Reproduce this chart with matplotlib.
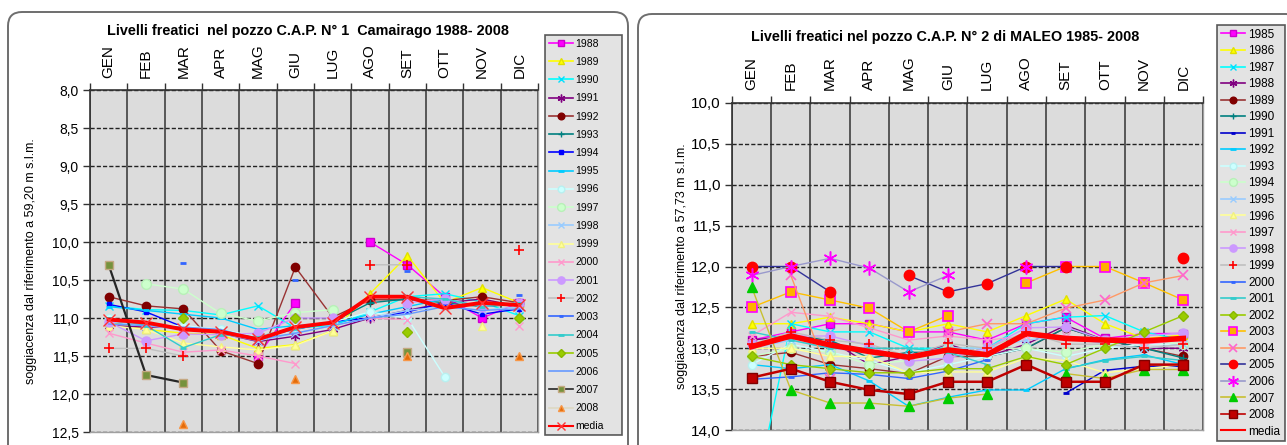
import numpy as np
import matplotlib
matplotlib.use('Agg')
import matplotlib.pyplot as plt
from matplotlib.patches import FancyBboxPatch
from matplotlib.lines import Line2D

nan = np.nan
months = ['GEN', 'FEB', 'MAR', 'APR', 'MAG', 'GIU', 'LUG', 'AGO', 'SET', 'OTT', 'NOV', 'DIC']

# ---------------- Left chart: Camairago 1988-2008 ----------------
cam_1988 = [nan, nan, nan, nan, 11.50, 10.80, nan, 10.00, 10.30, 10.72, 11.00, 10.80]
cam_1989 = [11.05, 11.15, 11.20, 11.22, 11.40, 11.35, 11.17, 10.68, 10.18, 10.80, 10.60, 10.80]
cam_1990 = [10.84, 10.89, 10.90, 10.96, 10.84, 11.13, 11.10, 10.92, 10.72, 10.68, 10.79, 10.97]
cam_1991 = [11.10, 11.12, 11.12, 11.20, 11.31, 11.24, 11.15, 11.00, 10.90, 10.80, 10.75, 10.85]
cam_1992 = [10.72, 10.84, 10.88, 11.43, 11.60, 10.33, 10.99, 10.76, 10.76, 10.77, 10.72, 10.80]
cam_1993 = [11.05, 11.10, 11.12, 11.20, 11.25, 11.12, 11.05, 10.80, 10.75, 10.80, 10.85, 10.82]
cam_1994 = [10.82, 10.92, 11.12, 11.20, 11.25, 11.15, 11.05, 11.00, 10.92, 10.80, 10.95, 10.88]
cam_1995 = [10.85, 10.90, 10.95, 11.00, 11.15, 11.10, 11.08, 10.95, 10.85, 10.75, 10.85, 10.80]
cam_1996 = [11.00, 11.10, 11.10, 11.15, 11.25, 11.12, 11.05, 10.92, 11.00, 11.77, nan, nan]
cam_1997 = [nan, 10.55, 10.62, 10.94, 11.04, 10.93, 10.89, nan, nan, nan, nan, nan]
cam_1998 = [11.05, 11.10, 11.15, 11.20, 11.30, 11.20, 11.10, 11.00, 10.90, 10.85, 10.90, 10.85]
cam_1999 = [11.10, 11.15, 11.33, 11.38, 11.42, 11.36, 11.17, nan, nan, nan, 11.10, nan]
cam_2000 = [11.20, 11.33, 11.45, 11.42, 11.50, 11.60, nan, 11.00, 11.02, nan, nan, 11.10]
cam_2001 = [11.05, 11.30, 11.21, 11.22, 11.20, 11.00, 11.00, nan, 10.80, 10.75, 10.85, 10.80]
cam_2002 = [11.40, 11.40, 11.50, nan, nan, nan, nan, 10.30, 10.30, nan, nan, 10.10]
cam_2003 = [nan, nan, 10.28, nan, nan, 10.50, nan, nan, 10.38, nan, nan, 10.70]
cam_2004 = [11.00, 11.10, 11.39, 11.22, 11.25, 11.15, 11.05, nan, 10.72, 10.75, 10.85, 10.80]
cam_2005 = [nan, nan, 11.00, nan, nan, 11.00, nan, nan, 11.19, nan, nan, 11.00]
cam_2006 = [11.08, 11.10, 11.12, 11.15, 11.28, 11.20, 11.10, 11.00, 10.95, 10.85, 10.90, 10.88]
cam_2007 = [10.30, 11.75, 11.85, nan, nan, nan, nan, nan, 11.45, nan, nan, nan]
cam_2008 = [nan, nan, 12.40, nan, nan, 11.80, nan, nan, 11.50, nan, nan, 11.50]
cam_media = [11.02, 11.06, 11.15, 11.18, 11.28, 11.12, 11.06, 10.72, 10.72, 10.87, 10.80, 10.83]

cam_labels = ['1988', '1989', '1990', '1991', '1992', '1993', '1994', '1995', '1996', '1997',
              '1998', '1999', '2000', '2001', '2002', '2003', '2004', '2005', '2006', '2007',
              '2008', 'media']
cam_values = [cam_1988, cam_1989, cam_1990, cam_1991, cam_1992, cam_1993, cam_1994, cam_1995,
              cam_1996, cam_1997, cam_1998, cam_1999, cam_2000, cam_2001, cam_2002, cam_2003,
              cam_2004, cam_2005, cam_2006, cam_2007, cam_2008, cam_media]

# ---------------- Right chart: Maleo 1985-2008 ----------------
mal_1985 = [12.90, 12.80, 12.70, 12.70, 12.80, 12.80, 12.90, 12.70, 12.62, 12.88, 12.82, 12.82]
mal_1986 = [12.70, 12.70, 12.62, 12.70, 12.80, 12.70, 12.80, 12.60, 12.40, 12.70, 12.88, 12.84]
mal_1987 = [15.00, 12.70, 12.80, 12.80, 13.00, 13.00, 13.00, 12.70, 12.62, 12.60, 12.80, 12.90]
mal_1988 = [12.90, 12.85, 12.90, 13.20, 13.10, 12.95, 13.10, 12.95, 12.72, 12.90, 13.00, 13.00]
mal_1989 = [13.10, 13.05, 13.20, 13.25, 13.31, 13.10, 13.10, 13.00, 12.75, 12.90, 13.00, 13.10]
mal_1990 = [13.00, 12.85, 12.90, 13.12, 13.05, 13.05, 13.10, 13.00, 12.75, 12.90, 13.00, 13.12]
mal_1991 = [nan, nan, nan, nan, nan, nan, nan, nan, 13.55, 13.27, 13.22, 13.22]
mal_1992 = [13.20, 13.25, 13.20, 13.40, 13.71, 13.60, 13.51, 13.51, 13.25, 13.14, 13.08, 13.20]
mal_1993 = [13.20, 12.95, 13.05, 13.15, 13.30, 13.20, 13.10, 13.00, 13.10, 13.00, 12.95, 12.95]
mal_1994 = [13.10, 13.00, 13.05, 13.20, 13.15, 13.00, 13.00, 13.00, 13.05, 12.95, 12.90, 12.95]
mal_1995 = [13.00, 12.90, 13.00, 13.05, 13.10, 13.00, 13.00, 12.90, 12.85, 12.95, 13.00, 12.95]
mal_1996 = [13.00, 13.00, 13.10, 13.10, 13.30, 13.29, 13.29, 13.12, 13.15, 13.30, 13.25, 13.20]
mal_1997 = [12.85, 12.56, 12.61, 12.75, 12.90, 12.85, 12.90, 12.85, 12.85, 12.90, 12.95, 12.90]
mal_1998 = [12.95, 12.85, 12.85, 12.97, 13.16, 13.12, 13.00, 12.75, 12.74, 12.90, 12.85, 12.81]
mal_1999 = [12.95, 12.80, 12.90, 12.95, 13.10, 12.94, 13.00, 12.80, 12.95, 12.95, 13.00, 12.95]
mal_2000 = [13.38, 13.35, 13.30, 13.32, 13.37, 13.28, 13.14, nan, nan, nan, nan, nan]
mal_2001 = [12.80, 12.90, 13.00, 13.00, 13.00, 13.05, 13.20, nan, 13.25, 13.15, 13.10, 13.15]
mal_2002 = [13.10, 13.20, 13.25, 13.30, 13.30, 13.25, 13.25, 13.10, 13.20, 13.00, 12.80, 12.60]
mal_2003 = [12.50, 12.31, 12.41, 12.51, 12.80, 12.60, nan, 12.20, 12.00, 12.00, 12.20, 12.41]
mal_2004 = [nan, 12.11, 13.38, nan, nan, 12.80, 12.70, 12.70, 12.51, 12.41, 12.20, 12.11]
mal_2005 = [12.00, 12.00, 12.31, nan, 12.11, 12.31, 12.21, 12.00, 12.00, nan, nan, 11.90]
mal_2006 = [12.11, 12.00, 11.90, 12.02, 12.31, 12.11, nan, 12.00, nan, nan, nan, nan]
mal_2007 = [12.25, 13.51, 13.67, 13.67, 13.71, 13.61, 13.56, nan, 13.31, 13.37, 13.26, 13.26]
mal_2008 = [13.36, 13.25, 13.41, 13.51, 13.56, 13.41, 13.41, 13.20, 13.41, 13.41, 13.20, 13.20]
mal_media = [12.98, 12.85, 12.96, 13.04, 13.11, 13.02, 13.08, 12.82, 12.88, 12.90, 12.91, 12.88]

mal_labels = ['1985', '1986', '1987', '1988', '1989', '1990', '1991', '1992', '1993', '1994',
              '1995', '1996', '1997', '1998', '1999', '2000', '2001', '2002', '2003', '2004',
              '2005', '2006', '2007', '2008', 'media']
mal_values = [mal_1985, mal_1986, mal_1987, mal_1988, mal_1989, mal_1990, mal_1991, mal_1992,
              mal_1993, mal_1994, mal_1995, mal_1996, mal_1997, mal_1998, mal_1999, mal_2000,
              mal_2001, mal_2002, mal_2003, mal_2004, mal_2005, mal_2006, mal_2007, mal_2008,
              mal_media]

AST = (6, 2, 0)

L_STYLE = {
    '1988': dict(lc='#FF00FF', m='s', ms=6, mfc='#FF00FF', mec='#CC00CC'),
    '1989': dict(lc='#FFFF00', m='^', ms=6, mfc='#FFFF00', mec='#E0E000'),
    '1990': dict(lc='#00FFFF', m='x', ms=6, mfc='#00FFFF', mec='#00E0FF'),
    '1991': dict(lc='#800080', m=AST, ms=7, mfc='#800080', mec='#800080'),
    '1992': dict(lc='#993333', m='o', ms=6, mfc='#800000', mec='#800000'),
    '1993': dict(lc='#008080', m='+', ms=6, mfc='#008080', mec='#008080'),
    '1994': dict(lc='#0000FF', m='s', ms=3, mfc='#0000FF', mec='#0000FF'),
    '1995': dict(lc='#00CCFF', m='_', ms=5, mfc='#00CCFF', mec='#00CCFF', mew=2),
    '1996': dict(lc='#CCFFFF', m='o', ms=6, mfc='#CCFFFF', mec='#B8F0F0'),
    '1997': dict(lc='#CCFFCC', m='o', ms=7, mfc='#CCFFCC', mec='#B8F0B8'),
    '1998': dict(lc='#99CCFF', m='x', ms=6, mfc='#99CCFF', mec='#99CCFF'),
    '1999': dict(lc='#FFFF99', m='^', ms=6, mfc='#FFFF99', mec='#F0F080'),
    '2000': dict(lc='#FF99CC', m='x', ms=6, mfc='#FF99CC', mec='#FF99CC'),
    '2001': dict(lc='#CC99FF', m='o', ms=6.5, mfc='#CC99FF', mec='#CC99FF'),
    '2002': dict(lc='#C0C0C0', m='+', ms=7, mfc='#FF0000', mec='#FF0000', mew=1.2),
    '2003': dict(lc='#3366FF', m='_', ms=4, mfc='#3366FF', mec='#3366FF', mew=2),
    '2004': dict(lc='#33CCCC', m='_', ms=5, mfc='#33CCCC', mec='#33CCCC', mew=2),
    '2005': dict(lc='#99CC00', m='D', ms=5, mfc='#99CC00', mec='#88B800'),
    '2006': dict(lc='#6699FF', m='None', ms=0, mfc='#6699FF', mec='#6699FF'),
    '2007': dict(lc='#262626', lw=1.6, m='s', ms=6, mfc='#76923C', mec='#C4A882'),
    '2008': dict(lc='#DDD9C3', m='^', ms=6, mfc='#E46C0A', mec='#F79646'),
    'media': dict(lc='#FF0000', lw=2.8, m='x', ms=8, mfc='#FF0000', mec='#FF3333'),
}

R_STYLE = {
    '1985': dict(lc='#FF00FF', m='s', ms=6, mfc='#FF00FF', mec='#CC00CC'),
    '1986': dict(lc='#FFFF00', m='^', ms=6, mfc='#FFFF00', mec='#E0E000'),
    '1987': dict(lc='#00FFFF', m='x', ms=6, mfc='#00FFFF', mec='#00E0FF'),
    '1988': dict(lc='#800080', m=AST, ms=7, mfc='#800080', mec='#800080'),
    '1989': dict(lc='#993333', m='o', ms=6, mfc='#800000', mec='#800000'),
    '1990': dict(lc='#008080', m='+', ms=6, mfc='#008080', mec='#008080'),
    '1991': dict(lc='#0000CC', m='_', ms=4, mfc='#0000CC', mec='#0000CC', mew=2),
    '1992': dict(lc='#00CCFF', m='_', ms=5, mfc='#00CCFF', mec='#00CCFF', mew=2),
    '1993': dict(lc='#CCFFFF', m='o', ms=6, mfc='#CCFFFF', mec='#B8F0F0'),
    '1994': dict(lc='#CCFFCC', m='o', ms=7, mfc='#CCFFCC', mec='#B8F0B8'),
    '1995': dict(lc='#99CCFF', m='x', ms=6, mfc='#99CCFF', mec='#99CCFF'),
    '1996': dict(lc='#FFFF99', m='^', ms=6, mfc='#FFFF99', mec='#F0F080'),
    '1997': dict(lc='#FF99CC', m='x', ms=6, mfc='#FF99CC', mec='#FF99CC'),
    '1998': dict(lc='#CC99FF', m='o', ms=6.5, mfc='#CC99FF', mec='#CC99FF'),
    '1999': dict(lc='#C0C0C0', m='+', ms=7, mfc='#FF0000', mec='#FF0000', mew=1.2),
    '2000': dict(lc='#3366FF', m='_', ms=4, mfc='#3366FF', mec='#3366FF', mew=2),
    '2001': dict(lc='#33CCCC', m='_', ms=5, mfc='#33CCCC', mec='#33CCCC', mew=2),
    '2002': dict(lc='#99CC00', m='D', ms=5, mfc='#99CC00', mec='#88B800'),
    '2003': dict(lc='#FFC000', m='s', ms=6.5, mfc='#FFB000', mec='#FF00FF', mew=1.2),
    '2004': dict(lc='#FF9966', m='x', ms=7, mfc='#FF66CC', mec='#FF66CC', mew=1.2),
    '2005': dict(lc='#333399', m='o', ms=7.5, mfc='#FF0000', mec='#FF0000'),
    '2006': dict(lc='#9999CC', m=AST, ms=10, mfc='#FF00FF', mec='#FF00FF', mew=1.1),
    '2007': dict(lc='#C8C032', m='^', ms=7, mfc='#00CC00', mec='#00CC00'),
    '2008': dict(lc='#C00000', lw=1.8, m='s', ms=7, mfc='#C00000', mec='#800000'),
    'media': dict(lc='#FF0000', lw=4.0, m='None', ms=0, mfc='#FF0000', mec='#FF0000'),
}

W, H = 1287, 445
fig = plt.figure(figsize=(W / 100, H / 100), dpi=100)
fig.patch.set_facecolor('white')

FONT = ['Liberation Sans', 'DejaVu Sans']
NARROW = ['Liberation Sans Narrow', 'Liberation Sans', 'DejaVu Sans']


def fa(x0, y0, x1, y1):
    return [x0 / W, 1 - y1 / H, (x1 - x0) / W, (y1 - y0) / H]


# panel frames (pixel coordinates)
for (x0, y0, x1, y1) in [(8, 12, 628, 460), (638, 14, 1300, 460)]:
    fig.add_artist(FancyBboxPatch((x0, H - y1), x1 - x0, y1 - y0,
                                  boxstyle='round,pad=0,rounding_size=14',
                                  transform=None, fc='white', ec='#6E6E6E', lw=1.4, zorder=0))


def style_axes(ax, ymin, ymax, ytick_fs):
    ax.set_facecolor('#DCDCDC')
    ax.set_xlim(-0.5, 11.5)
    ax.set_ylim(ymax, ymin)
    ax.xaxis.tick_top()
    ax.set_xticks(range(12))
    ax.set_xticklabels(months, rotation=90, fontsize=11, family=FONT)
    ax.tick_params(axis='x', which='major', length=0, pad=9)
    ax.set_xticks(np.arange(-0.5, 12, 1), minor=True)
    ax.tick_params(axis='x', which='minor', length=5, width=1, direction='out',
                   top=True, bottom=False, color='#333333')
    ax.grid(True, axis='x', which='minor', color='#333333', lw=1.1)
    yt = np.arange(ymin, ymax + 0.01, 0.5)
    ax.set_yticks(yt)
    ax.set_yticklabels([f'{v:.1f}'.replace('.', ',') for v in yt], fontsize=ytick_fs, family=FONT)
    ax.grid(True, axis='y', which='major', color='#222222', lw=1.0, ls=(0, (3, 1.5)))
    ax.tick_params(axis='y', length=5, width=1, direction='out', color='#333333', pad=3)
    ax.set_axisbelow(True)
    for s in ['left', 'top']:
        ax.spines[s].set_color('#333333')
        ax.spines[s].set_linewidth(1.2)
    for s in ['right', 'bottom']:
        ax.spines[s].set_color('#A0A0A0')
        ax.spines[s].set_linewidth(1.0)


def draw(ax, labels, values, styles):
    x = np.arange(12)
    handles = []
    for lab, vals in zip(labels, values):
        st = styles[lab]
        ax.plot(x, vals, color=st['lc'], lw=st.get('lw', 1.0), marker=st['m'],
                ms=st['ms'], mfc=st['mfc'], mec=st['mec'], mew=st.get('mew', 1.0),
                solid_joinstyle='round', clip_on=True, zorder=3)
        handles.append(Line2D([0], [0], color=st['lc'], lw=1.5 if lab == 'media' else 1.2,
                              marker=st['m'], ms=st['ms'] * 0.8, mfc=st['mfc'], mec=st['mec'],
                              mew=st.get('mew', 1.0)))
    return handles


ax1 = fig.add_axes(fa(90, 90, 538, 432))
style_axes(ax1, 8.0, 12.5, 10)
h1 = draw(ax1, cam_labels, cam_values, L_STYLE)
ax1.set_ylabel('soggiacenza dal riferimento a 59,20 m s.l.m.', fontsize=9, family=FONT, labelpad=11)

ax2 = fig.add_axes(fa(732, 103, 1203, 430))
style_axes(ax2, 10.0, 14.0, 11)
h2 = draw(ax2, mal_labels, mal_values, R_STYLE)
ax2.set_ylabel('soggiacenza dal riferimento a 57,73 m s.l.m.', fontsize=9, family=FONT, labelpad=2)

fig.text(308 / W, 1 - 31 / H, 'Livelli freatici  nel pozzo C.A.P. N° 1  Camairago 1988- 2008',
         ha='center', va='center', fontsize=10.4, fontweight='bold', family=NARROW)
fig.text(945 / W, 1 - 37 / H, 'Livelli freatici nel pozzo C.A.P. N° 2 di MALEO 1985- 2008',
         ha='center', va='center', fontsize=10.4, fontweight='bold', family=NARROW)

leg1 = fig.legend(h1, cam_labels, loc='upper left',
                  bbox_to_anchor=(545 / W, 1 - 437 / H, 77 / W, 402 / H), mode='expand',
                  labelspacing=0.79, handlelength=2.3, handletextpad=0.25,
                  borderpad=0.35, borderaxespad=0, frameon=True, fancybox=False,
                  prop={'family': FONT, 'size': 7.5})
leg1.get_frame().set_facecolor('#DCDCDC')
leg1.get_frame().set_edgecolor('#333333')
leg1.get_frame().set_linewidth(1.2)

leg2 = fig.legend(h2, mal_labels, loc='upper left',
                  bbox_to_anchor=(1217 / W, 1 - 438 / H, 68 / W, 413 / H), mode='expand',
                  labelspacing=0.385, handlelength=2.1, handletextpad=0.25,
                  borderpad=0.3, borderaxespad=0, frameon=True, fancybox=False,
                  prop={'family': FONT, 'size': 8.5})
leg2.get_frame().set_facecolor('#DCDCDC')
leg2.get_frame().set_edgecolor('#333333')
leg2.get_frame().set_linewidth(1.2)

fig.savefig('out.png', dpi=100, facecolor='white')
